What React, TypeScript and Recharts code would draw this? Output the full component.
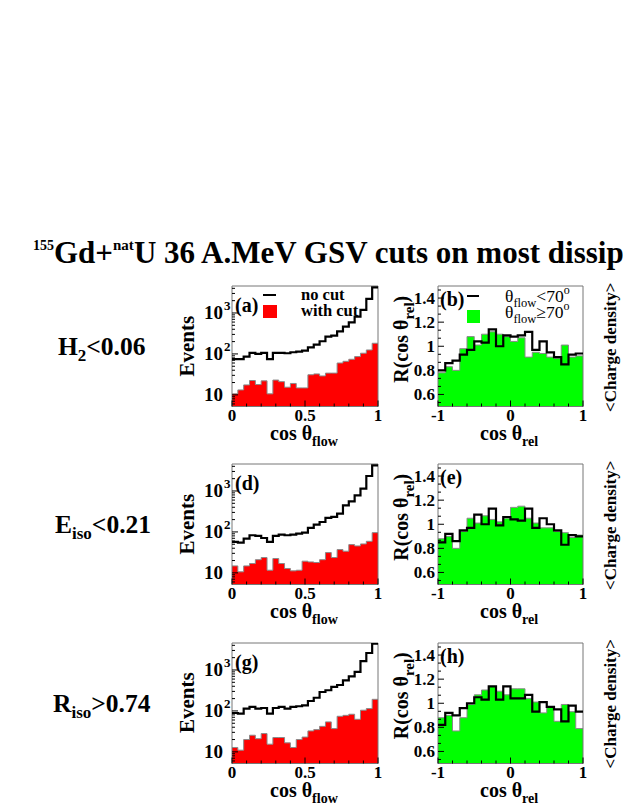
import { ComposedChart, Area, Line, XAxis, YAxis, ReferenceArea } from "recharts"

const FONT = '"Liberation Serif", "Times New Roman", serif'

// cos(theta_flow): 25 bins on [0,1], all events vs events passing the cut
const aAll = [75, 75, 86, 106, 100, 106, 75, 106, 106, 104, 110, 114, 120, 145, 168, 204, 264, 280, 357, 465, 590, 815, 1190, 2200, 4200]
const aCut = [10.6, 13.2, 17.5, 22.4, 17.9, 22, 10.6, 23, 21, 15.4, 19, 14.8, 14.8, 31, 32.5, 29, 34, 34, 60, 66, 74, 86, 104, 125, 182]
const dAll = [57, 55, 69, 83, 80, 71, 57, 80, 86, 83, 86, 91, 96, 125, 150, 175, 220, 232, 280, 445, 557, 785, 1140, 2320, 4200]
const dCut = [14.8, 10.6, 14.8, 16.9, 21, 23.7, 11.6, 22.4, 16.9, 12.8, 11.2, 11.6, 19.3, 18.5, 17.9, 21, 31.3, 23.7, 37.1, 33.8, 49, 45.5, 50.9, 59, 96]
const gAll = [89, 86, 114, 125, 114, 118, 86, 118, 125, 114, 125, 130, 137, 175, 210, 290, 320, 385, 430, 560, 700, 900, 1650, 2600, 4400]
const gCut = [12.8, 11, 20, 25.5, 21, 28, 15.4, 22.4, 22.4, 16.6, 12.8, 20, 23, 32.5, 35, 42, 54, 37, 74, 78, 83, 62.5, 104, 114, 192]

// R(cos theta_rel): 20 bins on [-1,1], theta_flow < 70 (line) and >= 70 (fill)
const bLow = [0.8, 0.86, 0.88, 0.93, 0.97, 1.04, 1.03, 1.14, 1.0, 1.09, 1.08, 1.09, 1.12, 0.97, 1.04, 0.95, 0.91, 0.85, 0.93, 0.94]
const bHigh = [0.78, 0.83, 0.8, 0.98, 1.08, 1.01, 1.1, 1.12, 1.1, 1.08, 1.04, 1.07, 0.91, 0.95, 0.94, 0.91, 0.9, 1.01, 0.91, 0.92]
const eLow = [0.85, 0.92, 0.86, 0.95, 0.97, 1.08, 1.0, 1.13, 0.99, 1.06, 1.04, 1.03, 1.13, 0.97, 1.05, 1.0, 0.95, 0.83, 0.91, 0.9]
const eHigh = [0.88, 0.9, 0.8, 0.94, 1.05, 1.01, 1.07, 1.04, 1.02, 1.05, 1.14, 1.15, 1.05, 1.01, 0.97, 0.97, 0.94, 0.93, 0.89, 0.91]
const hLow = [0.82, 0.92, 0.9, 0.96, 1.0, 1.05, 1.03, 1.14, 1.03, 1.14, 1.04, 1.04, 1.07, 0.93, 1.01, 0.97, 0.95, 0.85, 0.98, 0.93]
const hHigh = [0.88, 0.9, 0.77, 0.88, 0.99, 1.07, 1.11, 1.14, 1.1, 1.07, 1.12, 1.12, 1.04, 1.01, 0.92, 0.97, 0.85, 0.99, 0.93, 0.79]

const rowLabels = [
  { main: "H", sub: "2", rest: "<0.06" },
  { main: "E", sub: "iso", rest: "<0.21" },
  { main: "R", sub: "iso", rest: ">0.74" },
]
const leftTags = ["(a)", "(d)", "(g)"]
const rightTags = ["(b)", "(e)", "(h)"]

const flowTicks = [0, 0.1, 0.2, 0.3, 0.4, 0.5, 0.6, 0.7, 0.8, 0.9, 1]
const flowMajor = [0, 0.5, 1]
const relTicks = [-1, -0.8, -0.6, -0.4, -0.2, 0, 0.2, 0.4, 0.6, 0.8, 1]
const relMajor = [-1, 0, 1]
const logTicks = [6, 7, 8, 9, 10, 20, 30, 40, 50, 60, 70, 80, 90, 100, 200, 300, 400, 500, 600, 700, 800, 900, 1000, 2000, 3000, 4000]
const logMajor = [10, 100, 1000]
const ratioTicks = [0.5333, 0.6, 0.6667, 0.7333, 0.8, 0.8667, 0.9333, 1, 1.0667, 1.1333, 1.2, 1.2667, 1.3333, 1.4, 1.4667]
const ratioMajor = [0.6, 0.8, 1, 1.2, 1.4]

const LEFT_X = 232
const LEFT_W = 146
const RIGHT_X = 437.7
const RIGHT_W = 145
const ROW_TOPS = [286, 464, 642.5]
const PLOT_H = 120.5
const LOG_DOMAIN = [5.2, 4560]
const RATIO_DOMAIN = [0.5, 1.5]

function toSteps(lo: number, hi: number, fill: number[], line: number[]) {
  const w = (hi - lo) / fill.length
  const rows = fill.map((v, i) => ({ x: lo + i * w, fill: v, line: line[i] }))
  rows.push({ x: hi, fill: fill[fill.length - 1], line: line[line.length - 1] })
  return rows
}

const isMajor = (v: number, major: number[]) => major.some((m) => Math.abs(m - v) < 1e-6)

const xTick = (major: number[]) => (p: any) => {
  const v = p.payload.value
  const big = isMajor(v, major)
  return (
    <g>
      <line x1={p.x} x2={p.x} y1={p.y} y2={p.y - (big ? 6 : 3)} stroke="#000" />
      {big && (
        <text x={p.x} y={p.y + 14.5} textAnchor="middle" fontSize={17} fontWeight="bold" fontFamily={FONT}>
          {String(v)}
        </text>
      )}
    </g>
  )
}

const ratioTick = (p: any) => {
  const v = p.payload.value
  const big = isMajor(v, ratioMajor)
  return (
    <g>
      <line x1={p.x} x2={p.x + (big ? 6 : 3)} y1={p.y} y2={p.y} stroke="#000" />
      {big && (
        <text x={p.x - 3} y={p.y + 6} textAnchor="end" fontSize={17} fontWeight="bold" fontFamily={FONT}>
          {String(v)}
        </text>
      )}
    </g>
  )
}

const logTick = (p: any) => {
  const v = p.payload.value
  const big = isMajor(v, logMajor)
  const exp = Math.round(Math.log10(v))
  return (
    <g>
      <line x1={p.x} x2={p.x + (big ? 6 : 3)} y1={p.y} y2={p.y} stroke="#000" />
      {big && (
        <text x={p.x - 9} y={p.y + 6} textAnchor="end" fontSize={19} fontWeight="bold" fontFamily={FONT}>
          10
        </text>
      )}
      {big && exp > 1 && (
        <text x={p.x - 8} y={p.y - 3} fontSize={13} fontWeight="bold" fontFamily={FONT}>
          {exp}
        </text>
      )}
    </g>
  )
}

type PanelProps = {
  left: number
  top: number
  width: number
  data: { x: number; fill: number; line: number }[]
  xDomain: number[]
  xTicks: number[]
  xMajor: number[]
  log: boolean
  fillColor: string
}

function Panel({ left, top, width, data, xDomain, xTicks, xMajor, log, fillColor }: PanelProps) {
  const padL = 50
  const padT = 5
  const yDomain = log ? LOG_DOMAIN : RATIO_DOMAIN
  return (
    <div style={{ position: "absolute", left: left - padL, top: top - padT }}>
      <ComposedChart
        width={width + padL + 5}
        height={PLOT_H + padT + 25}
        data={data}
        margin={{ top: padT, right: 5, bottom: 0, left: 0 }}
      >
        <XAxis
          dataKey="x"
          type="number"
          domain={xDomain}
          allowDataOverflow
          ticks={xTicks}
          interval={0}
          height={25}
          tickSize={0}
          tickMargin={0}
          tickLine={false}
          axisLine={false}
          tick={xTick(xMajor)}
        />
        <YAxis
          type="number"
          scale={log ? "log" : "linear"}
          domain={yDomain}
          allowDataOverflow
          ticks={log ? logTicks : ratioTicks}
          interval={0}
          width={padL}
          tickSize={0}
          tickMargin={0}
          tickLine={false}
          axisLine={false}
          tick={log ? logTick : ratioTick}
        />
        <Area
          type="stepAfter"
          dataKey="fill"
          fill={fillColor}
          fillOpacity={1}
          stroke="#8a8a8a"
          strokeWidth={1}
          dot={false}
          isAnimationActive={false}
        />
        <Line
          type="stepAfter"
          dataKey="line"
          stroke="#000"
          strokeWidth={2.2}
          dot={false}
          isAnimationActive={false}
        />
        <ReferenceArea
          x1={xDomain[0]}
          x2={xDomain[1]}
          y1={yDomain[0]}
          y2={yDomain[1]}
          fill="none"
          stroke="#777"
          strokeWidth={1}
        />
      </ComposedChart>
    </div>
  )
}

const leftData = [toSteps(0, 1, aCut, aAll), toSteps(0, 1, dCut, dAll), toSteps(0, 1, gCut, gAll)]
const rightData = [toSteps(-1, 1, bHigh, bLow), toSteps(-1, 1, eHigh, eLow), toSteps(-1, 1, hHigh, hLow)]

export default function App() {
  return (
    <div
      style={{
        position: "absolute",
        left: 0,
        top: 0,
        width: 623,
        height: 806,
        overflow: "hidden",
        background: "#fff",
        fontFamily: FONT,
      }}
    >
      {ROW_TOPS.map((top, r) => (
        <div key={r}>
          <Panel
            left={LEFT_X}
            top={top}
            width={LEFT_W}
            data={leftData[r]}
            xDomain={[0, 1]}
            xTicks={flowTicks}
            xMajor={flowMajor}
            log
            fillColor="#ff0000"
          />
          <Panel
            left={RIGHT_X}
            top={top}
            width={RIGHT_W}
            data={rightData[r]}
            xDomain={[-1, 1]}
            xTicks={relTicks}
            xMajor={relMajor}
            log={false}
            fillColor="#00ff00"
          />
        </div>
      ))}

      <svg
        width={623}
        height={806}
        style={{ position: "absolute", left: 0, top: 0, pointerEvents: "none" }}
        fontFamily={FONT}
        fontWeight="bold"
      >
        <text x={33} y={263} fontSize={31}>
          <tspan fontSize={14} dy={-13}>155</tspan>
          <tspan dy={13}>Gd+</tspan>
          <tspan fontSize={15} dy={-13}>nat</tspan>
          <tspan dy={13}>U 36 A.MeV GSV cuts on most dissipative events</tspan>
        </text>

        {ROW_TOPS.map((top, r) => {
          const mid = top + PLOT_H / 2
          const lab = rowLabels[r]
          return (
            <g key={r}>
              <text x={[58, 55, 53][r]} y={mid + 9} fontSize={25.5}>
                {lab.main}
                <tspan fontSize={17} dy={6}>{lab.sub}</tspan>
                <tspan dy={-6}>{lab.rest}</tspan>
              </text>

              <text transform={`translate(194, ${mid}) rotate(-90)`} textAnchor="middle" fontSize={21}>
                Events
              </text>
              <text x={270} y={top + PLOT_H + 33.5} fontSize={20}>
                cos θ<tspan fontSize={14} dy={6}>flow</tspan>
              </text>

              <text transform={`translate(408, ${mid - 7}) rotate(-90)`} textAnchor="middle" fontSize={20}>
                R(cos θ<tspan fontSize={15} dy={6}>rel</tspan>
                <tspan dy={-6}>)</tspan>
              </text>
              <text x={480} y={top + PLOT_H + 33.5} fontSize={20}>
                cos θ<tspan fontSize={14} dy={6}>rel</tspan>
              </text>

              <text transform={`translate(616, ${mid + 1}) rotate(-90)`} textAnchor="middle" fontSize={17}>
                {"<Charge density>"}
              </text>

              <text x={235} y={top + 26} fontSize={20}>{leftTags[r]}</text>
              <text x={440} y={top + 20} fontSize={20}>{rightTags[r]}</text>
            </g>
          )
        })}

        {/* legend (a) */}
        <line x1={263} x2={276} y1={295} y2={295} stroke="#000" strokeWidth={2} />
        <text x={301} y={300} fontSize={16.5}>no cut</text>
        <rect x={263} y={305} width={14} height={13} fill="#ff0000" />
        <text x={301} y={316} fontSize={16.5}>with cut</text>

        {/* legend (b) */}
        <line x1={467} x2={479} y1={296} y2={296} stroke="#000" strokeWidth={2} />
        <text x={505} y={302} fontSize={17.5} fontWeight="normal">
          θ<tspan fontSize={12.5} dy={5}>flow</tspan>
          <tspan dy={-5}>{"<70"}</tspan>
          <tspan fontSize={12} dy={-8}>o</tspan>
        </text>
        <rect x={467} y={310} width={13} height={13} fill="#00ff00" />
        <text x={505} y={318} fontSize={17.5} fontWeight="normal">
          θ<tspan fontSize={12.5} dy={5}>flow</tspan>
          <tspan dy={-5}>{"≥70"}</tspan>
          <tspan fontSize={12} dy={-8}>o</tspan>
        </text>
      </svg>
    </div>
  )
}
